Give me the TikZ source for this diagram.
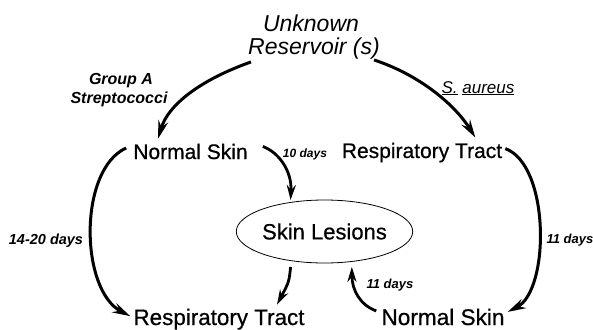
\documentclass[tikz,border=0pt]{standalone}
\usepackage{fontspec}
\setmainfont{Liberation Sans}
\newfontfamily\heavy[FakeBold=0.6]{Liberation Sans}
\usetikzlibrary{arrows.meta,shapes.geometric,calc}
\begin{document}
\begin{tikzpicture}[x=1pt,y=-1pt,
  lab/.style={inner sep=0pt, anchor=base},
  title/.style={lab, font=\fontsize{23}{27}\selectfont\itshape},
  place/.style={lab, font=\heavy\fontsize{#1}{25}\selectfont},
  note/.style={lab, font=\fontsize{#1}{18}\selectfont\bfseries\itshape},
  conn/.style={line width=3pt, -{Stealth[length=18pt,width=10pt,inset=6pt]}},
  sconn/.style={line width=2.8pt, -{Stealth[length=15pt,width=9pt,inset=5pt]}},
]
\useasboundingbox (0,0) rectangle (593,329);
% texts
\node[title] (unk) at (311,31) {Unknown};
\node[title] (res) at (314,54) {Reservoir (s)};
\node[note=16] (grp) at (121,84) {Group A};
\node[note=16] (strep) at (119,103) {Streptococci};
\node[lab, font=\fontsize{17}{20}\selectfont\itshape] (saur) at (478,93) {\underline{S.} \underline{aureus}};
\node[place=21] (ns1) at (190.5,159) {Normal Skin};
\node[place=21] (rt1) at (422,158) {Respiratory Tract};
\node[note=12] (d10) at (305,157) {10 days};
\node[ellipse, draw, line width=0.8pt, minimum width=153pt, minimum height=63pt, inner sep=0pt,
      font=\heavy\fontsize{22}{25}\selectfont] (sl) at (324.5,231.5) {Skin Lesions};
\node[place=22.4] (rt2) at (219,325) {Respiratory Tract};
\node[place=22.6] (ns2) at (443,325) {Normal Skin};
\node[note=14.5] (d1420) at (46,244) {14-20 days};
\node[note=13] (d11a) at (390,288) {11 days};
\node[note=13] (d11b) at (570,243) {11 days};
% connectors
\draw[conn] ($(res.south west)+(3,3)$) .. controls (200,80) and (168,105) .. ($(ns1.north west)+(25,-5)$);
\draw[conn] ($(res.south east)+(-6,1)$) .. controls (420,75) and (455,105) .. ($(rt1.north east)+(-27,-5)$);
\draw[conn] ($(ns1.west)+(-7,-3.5)$) .. controls (78,170) and (80,290) .. ($(rt2.west)+(-3,-3)$);
\draw[conn] ($(rt1.east)+(3,-4)$) .. controls (550,165) and (550,290) .. ($(ns2.east)+(3,-5)$);
\draw[sconn] ($(ns1.east)+(15,-5)$) .. controls (278,152) and (292,170) .. ($(sl.139)+(0,-2)$);
\draw[sconn] ($(sl.221)+(0,6)$) .. controls (289,282) .. ($(rt2.north)+(58,-4)$);
\draw[sconn] ($(ns2.west)+(-5,-6)$) .. controls (360,305) and (352,290) .. ($(sl.312)+(0,5)$);
\end{tikzpicture}
\end{document}
